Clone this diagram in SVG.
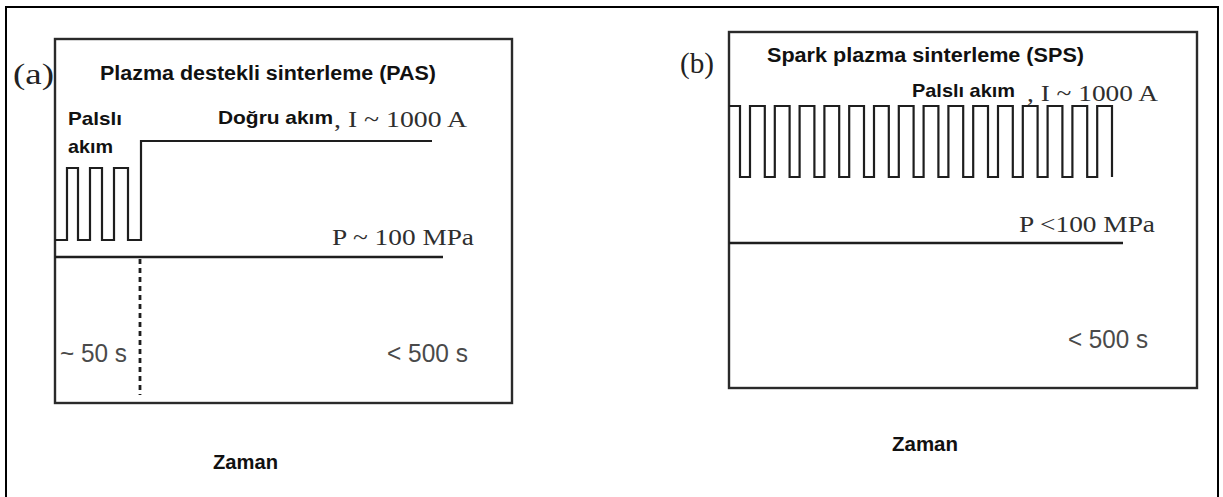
<svg xmlns="http://www.w3.org/2000/svg" width="1223" height="497" viewBox="0 0 1223 497">
<style>
.frame{fill:none;stroke:#000;stroke-width:2}
.box{fill:none;stroke:#2a2a2a;stroke-width:2.4}
.wave{fill:none;stroke:#1e1e1e;stroke-width:2.2;stroke-linejoin:miter}
.line{fill:none;stroke:#1e1e1e;stroke-width:2.4}
.dot{fill:none;stroke:#1e1e1e;stroke-width:2.8;stroke-dasharray:5 4}
.title{font-family:"Liberation Sans",Arial,sans-serif;font-weight:bold;font-size:20px;fill:#111}
.lbl{font-family:"Liberation Sans",Arial,sans-serif;font-weight:bold;font-size:19px;fill:#111}
.ser{font-family:"Liberation Serif","Times New Roman",serif;font-size:23px;fill:#2e2e2e}
.tag{font-family:"Liberation Serif","Times New Roman",serif;font-size:30px;fill:#222}
.tm{font-family:"Liberation Sans",Arial,sans-serif;font-size:25px;fill:#4a4a4a}
.ax{font-family:"Liberation Sans",Arial,sans-serif;font-weight:bold;font-size:20px;fill:#111}
</style>
<rect x="0" y="0" width="1223" height="497" fill="#fff"/>
<rect class="frame" x="6" y="7" width="1212" height="500"/>

<g id="panel-a">
  <rect class="box" x="55" y="39" width="457" height="364"/>
  <text class="tag" x="13" y="84" textLength="41" lengthAdjust="spacingAndGlyphs">(a)</text>
  <text class="title" x="100" y="80" textLength="336" lengthAdjust="spacingAndGlyphs">Plazma destekli sinterleme (PAS)</text>
  <text class="lbl" x="68" y="125" textLength="54" lengthAdjust="spacingAndGlyphs">Palslı</text>
  <text class="lbl" x="68" y="153" textLength="45" lengthAdjust="spacingAndGlyphs">akım</text>
  <text class="lbl" x="218" y="124" textLength="115" lengthAdjust="spacingAndGlyphs">Doğru akım</text>
  <text class="ser" x="334" y="127" textLength="133" lengthAdjust="spacingAndGlyphs">, I ~ 1000 A</text>
  <text class="ser" x="332" y="245" textLength="142" lengthAdjust="spacingAndGlyphs">P ~ 100 MPa</text>
  <text class="tm" x="60" y="362" textLength="67" lengthAdjust="spacingAndGlyphs">~ 50 s</text>
  <text class="tm" x="387" y="362" textLength="81" lengthAdjust="spacingAndGlyphs">&lt; 500 s</text>
  <text class="ax" x="213" y="469" textLength="65" lengthAdjust="spacingAndGlyphs">Zaman</text>
</g>

<g id="panel-b">
  <rect class="box" x="729" y="32" width="468" height="356"/>
  <text class="tag" x="680" y="73" textLength="34" lengthAdjust="spacingAndGlyphs">(b)</text>
  <text class="title" x="767" y="62" textLength="317" lengthAdjust="spacingAndGlyphs">Spark plazma sinterleme (SPS)</text>
  <text class="lbl" x="912" y="97" textLength="103" lengthAdjust="spacingAndGlyphs">Palslı akım</text>
  <text class="ser" x="1027" y="101" textLength="131" lengthAdjust="spacingAndGlyphs">, I ~ 1000 A</text>
  <text class="ser" x="1019" y="232" textLength="136" lengthAdjust="spacingAndGlyphs">P &lt;100 MPa</text>
  <text class="tm" x="1068" y="348" textLength="80" lengthAdjust="spacingAndGlyphs">&lt; 500 s</text>
  <text class="ax" x="892" y="451" textLength="66" lengthAdjust="spacingAndGlyphs">Zaman</text>
</g>

<g id="connectors">
  <path class="wave" d="M55,240 H67 V168 H78 V240 H90 V168 H102 V240 H114 V168 H128 V240 H141 V141 H432"/>
  <line class="line" x1="55" y1="257" x2="443" y2="257"/>
  <line class="dot" x1="140" y1="259" x2="140" y2="395"/>
  <path class="wave" d="M729,106 H740 V177 H750 V106 H764.8 V177 H774.8 V106 H789.6 V177 H799.6 V106 H814.4 V177 H824.4 V106 H839.2 V177 H849.2 V106 H864 V177 H874 V106 H888.8 V177 H898.8 V106 H913.6 V177 H923.6 V106 H938.4 V177 H948.4 V106 H963.2 V177 H973.2 V106 H988 V177 H998 V106 H1012.8 V177 H1022.8 V106 H1037.6 V177 H1047.6 V106 H1062.4 V177 H1072.4 V106 H1087.2 V177 H1097.2 V106 H1112 V177"/>
  <line class="line" x1="729" y1="243" x2="1123" y2="243"/>
</g>
</svg>
